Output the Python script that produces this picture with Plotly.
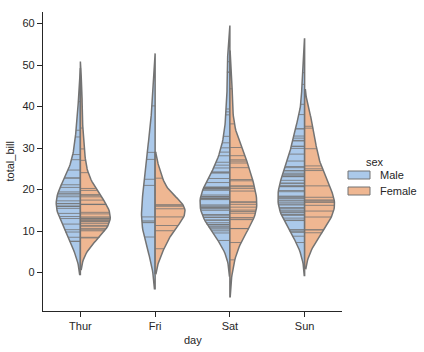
import numpy as np
import plotly.graph_objects as go

days = ["Thur", "Fri", "Sat", "Sun"]
sexes = ["Male", "Female"]

thur_male = [27.2, 22.76, 17.29, 19.44, 16.66, 32.68, 15.98, 13.03, 18.28, 24.71, 21.16,
             11.69, 14.26, 15.95, 8.52, 22.82, 19.08, 16.0, 34.3, 41.19, 9.78, 7.51,
             28.44, 15.48, 16.58, 7.56, 10.34, 13.51, 18.71, 20.53]
thur_female = [10.07, 34.83, 10.65, 12.43, 24.08, 13.42, 12.48, 29.8, 14.52, 11.38, 20.27,
               11.17, 12.26, 18.26, 8.51, 10.33, 14.15, 13.16, 17.47, 27.05, 16.43, 8.35,
               18.64, 11.87, 19.81, 43.11, 13.0, 12.74, 13.0, 16.4, 16.47, 18.78]
fri_male = [28.97, 22.49, 40.17, 27.28, 12.03, 21.01, 12.46, 12.16, 8.58, 13.42]
fri_female = [5.75, 16.32, 22.75, 11.35, 15.38, 13.42, 15.98, 16.27, 10.09]
sat_male = [20.65, 17.92, 39.42, 19.82, 17.81, 13.37, 12.69, 21.7, 9.55, 18.35, 17.78,
            24.06, 16.31, 18.69, 31.27, 16.04, 38.01, 11.24, 48.27, 20.29, 13.81, 11.02,
            18.29, 17.59, 20.08, 20.23, 15.01, 12.02, 10.51, 17.92, 15.36, 20.49, 25.21,
            18.24, 14.0, 50.81, 15.81, 26.59, 38.73, 24.27, 30.06, 25.89, 48.33, 28.15,
            11.59, 7.74, 20.45, 13.28, 24.01, 15.69, 11.61, 10.77, 15.53, 10.07, 12.6,
            32.83, 29.03, 22.67, 17.82]
sat_female = [20.29, 15.77, 19.65, 15.06, 20.69, 16.93, 26.41, 16.45, 3.07, 17.07, 26.86,
              25.28, 14.73, 44.3, 22.42, 20.92, 14.31, 7.25, 10.59, 10.63, 12.76, 13.27,
              28.17, 12.9, 30.14, 22.12, 35.83, 27.18]
sun_male = [10.34, 21.01, 23.68, 25.29, 8.77, 26.88, 15.04, 14.78, 10.27, 15.42, 18.43,
            21.58, 16.29, 17.46, 13.94, 9.68, 30.4, 18.29, 22.23, 32.4, 28.55, 18.04,
            12.54, 9.94, 25.56, 19.49, 38.07, 23.95, 29.93, 14.07, 13.13, 17.26, 24.55,
            19.77, 48.17, 16.49, 21.5, 12.66, 13.81, 24.52, 20.76, 31.71, 7.25, 31.85,
            16.82, 32.9, 17.89, 14.48, 34.63, 34.65, 23.33, 45.35, 23.17, 40.55, 20.69,
            30.46, 23.1, 15.69]
sun_female = [16.99, 24.59, 35.26, 14.83, 10.33, 16.97, 10.29, 34.81, 25.71, 17.31, 29.85,
              25.0, 13.39, 16.21, 17.51, 9.6, 20.9, 18.15]

groups = {
    "Thur": (thur_male, thur_female),
    "Fri": (fri_male, fri_female),
    "Sat": (sat_male, sat_female),
    "Sun": (sun_male, sun_female),
}

colors = {"Male": "#abc9ea", "Female": "#efb792"}
gray = "#737373"
dwidth = 0.4
cut = 2
gridsize = 100


def kde(data):
    data = np.asarray(data, float)
    n = data.size
    bw = data.std(ddof=1) * n ** (-1 / 5)
    support = np.linspace(data.min() - cut * bw, data.max() + cut * bw, gridsize)
    dens = np.exp(-0.5 * ((support[:, None] - data[None, :]) / bw) ** 2).sum(1)
    dens /= n * bw * np.sqrt(2 * np.pi)
    return support, dens


fig = go.Figure()
ymin, ymax = np.inf, -np.inf
for i, day in enumerate(days):
    res = [kde(d) for d in groups[day]]
    maxd = max(r[1].max() for r in res)
    for j, sex in enumerate(sexes):
        data = np.asarray(groups[day][j], float)
        support, dens = res[j]
        dens = dens / maxd
        ymin = min(ymin, support.min())
        ymax = max(ymax, support.max())
        sign = -1 if j == 0 else 1
        xs = np.concatenate([i + sign * dens * dwidth, [i, i]])
        ys = np.concatenate([support, [support[-1], support[0]]])
        fig.add_trace(go.Scatter(
            x=xs, y=ys, mode="lines", fill="toself", fillcolor=colors[sex],
            line=dict(color=gray, width=1.5), showlegend=False, hoverinfo="skip"))
        sx, sy = [], []
        for v in data:
            idx = np.argmin(np.abs(support - v))
            w = dwidth * dens[idx] * 0.99
            sx += [i, i + sign * w, None]
            sy += [v, v, None]
        fig.add_trace(go.Scatter(
            x=sx, y=sy, mode="lines", line=dict(color=gray, width=0.8),
            showlegend=False, hoverinfo="skip"))

pad = (ymax - ymin) * 0.05
yr = [ymin - pad, ymax + pad]

L, R, T, B = 43, 342, 12, 311


def px(x):
    return (x - L) / (R - L)


def py(y):
    return (B - y) / (B - T)


shapes = []
annotations = [dict(x=px(375), y=py(162), xref="paper", yref="paper", text="sex",
                    showarrow=False, xanchor="center", yanchor="middle",
                    font=dict(size=11, color="#262626"))]
for k, (sex, yc) in enumerate([("Male", 175), ("Female", 191)]):
    shapes.append(dict(type="rect", xref="paper", yref="paper",
                       x0=px(348), x1=px(370), y0=py(yc - 4), y1=py(yc + 4),
                       fillcolor=colors[sex], line=dict(color=gray, width=1)))
    annotations.append(dict(x=px(378), y=py(yc), xref="paper", yref="paper", text=sex,
                            showarrow=False, xanchor="left", yanchor="middle",
                            font=dict(size=11, color="#262626")))
# axis titles placed as in the reference
annotations.append(dict(x=0.5, y=py(340), xref="paper", yref="paper", text="day",
                        showarrow=False, xanchor="center", yanchor="middle",
                        font=dict(size=11, color="#262626")))
annotations.append(dict(x=px(9), y=0.5, xref="paper", yref="paper", text="total_bill",
                        showarrow=False, xanchor="center", yanchor="middle", textangle=-90,
                        font=dict(size=11, color="#262626")))

axis_common = dict(showline=True, linecolor="#262626", linewidth=1.25, ticks="outside",
                   ticklen=5, tickwidth=1.25, tickcolor="#262626", showgrid=False,
                   zeroline=False, tickfont=dict(size=11, color="#262626"),
                   mirror=False, automargin=False)

fig.update_layout(
    width=424, height=352,
    margin=dict(l=L, r=424 - R, t=T, b=352 - B),
    plot_bgcolor="white", paper_bgcolor="white",
    font=dict(family="Liberation Sans, Arial, sans-serif", size=11, color="#262626"),
    xaxis=dict(range=[-0.5, 3.5], tickvals=list(range(len(days))), ticktext=days,
               **axis_common),
    yaxis=dict(range=yr, tickvals=[0, 10, 20, 30, 40, 50, 60], **axis_common),
    shapes=shapes, annotations=annotations, showlegend=False,
)

fig.write_html("out.html")
